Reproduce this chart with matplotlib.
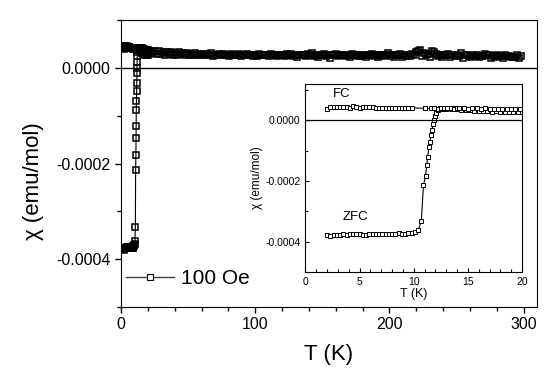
import numpy as np
import matplotlib
matplotlib.use("Agg")
import matplotlib.pyplot as plt
from matplotlib.ticker import MultipleLocator, FuncFormatter

plt.rcParams["font.family"] = ["Liberation Sans", "DejaVu Sans"]
plt.rcParams["axes.unicode_minus"] = False

# --- ZFC (zero field cooled), T in K, chi in 1e-6 emu/mol ---
zfc_t = [2.0, 2.3, 2.6, 2.9, 3.2, 3.5, 3.8, 4.1, 4.4, 4.7, 5.0, 5.3, 5.6, 5.9, 6.2,
         6.5, 6.8, 7.1, 7.4, 7.7, 8.0, 8.3, 8.6, 8.9, 9.2, 9.5, 9.8, 10.1, 10.4,
         10.7, 10.9, 11.1, 11.2, 11.3, 11.4, 11.5, 11.6, 11.7, 11.8, 11.9, 12.0,
         12.1, 12.2, 12.3,
         12.4, 12.5, 12.6, 12.7, 12.8, 12.9, 13.0, 13.1, 13.2, 13.3, 13.4, 13.5,
         13.6, 13.7, 13.8, 13.9, 14.0,
         14.4, 14.8, 15.2, 15.6, 16.0, 16.4, 16.8, 17.2, 17.6, 18.0, 18.4, 18.8,
         19.2, 19.6, 20.0]
zfc_chi = [-377, -380, -378, -377, -377, -376, -377, -376, -375, -374, -376, -377,
           -377, -375, -374, -375, -375, -376, -375, -376, -376, -374, -373, -376,
           -374, -373, -371, -369, -362,
           -333, -214, -183, -146, -121, -87, -70, -48, -31, -11, 0, 13, 24, 33, 38,
           40, 41, 39, 42, 40, 41, 39, 40, 42, 41, 39, 40, 41, 38, 40, 39, 40,
           35, 33, 34, 32, 31, 32, 30, 29, 31, 28, 29, 27, 28, 27, 28]

# --- FC (field cooled) ---
fc_t = [2.0, 2.3, 2.6, 2.9, 3.2, 3.5, 3.8, 4.1, 4.4, 4.7, 5.0, 5.3, 5.6, 5.9, 6.2,
        6.5, 6.8, 7.1, 7.4, 7.7, 8.0, 8.3, 8.6, 8.9, 9.2, 9.5, 9.8,
        11.0, 11.6, 11.9, 12.2, 12.5, 12.8, 13.1, 13.4, 13.7, 14.0,
        14.2, 14.6, 15.0, 15.4, 15.8, 16.2, 16.6, 17.0, 17.4, 17.8, 18.2, 18.6,
        19.0, 19.4, 19.8]
fc_chi = [39, 44, 45, 45, 44, 43, 43, 42, 46, 43, 42, 43, 44, 43, 43, 42, 42, 42,
          41, 41, 42, 41, 40, 40, 41, 40, 41,
          40, 40, 41, 39, 41, 40, 42, 40, 39, 41,
          40, 41, 39, 40, 41, 39, 40, 38, 39, 38, 37, 38, 37, 38, 37]

# --- high temperature part (3 K steps) ---
fc_hi_t = list(range(22, 299, 3))
fc_hi_chi = [36, 35, 36, 34, 33, 34, 32, 33, 31, 32, 30, 31, 30,
             29, 30, 31, 28, 29, 30, 28, 29, 27, 30, 28, 29, 27, 28, 30, 27, 28, 29, 27, 28,
             27, 29, 30, 27, 28, 26, 29, 31, 27, 28, 30, 26, 27, 29, 28, 26, 27, 30, 28, 27,
             26, 28, 29, 27, 26, 28, 31, 27, 26, 29, 28, 27, 30, 33, 38, 31, 29, 36, 30, 28,
             27, 29, 26, 28, 31, 26, 25, 28, 27, 24, 29, 26, 25, 28, 24, 27, 25, 23, 26, 24]
zfc_hi_t = [t - 1.5 for t in fc_hi_t]
zfc_hi_chi = [30, 31, 29, 30, 28, 29, 27, 28, 29, 27, 28, 26, 27,
              27, 26, 28, 25, 27, 26, 28, 24, 26, 27, 25, 26, 28, 24, 25, 27, 26, 24, 27, 25,
              26, 24, 27, 25, 22, 26, 25, 27, 24, 23, 26, 25, 21, 26, 24, 27, 25, 23, 26, 24,
              25, 23, 26, 24, 22, 25, 27, 24, 23, 26, 22, 25, 24, 27, 35, 24, 26, 22, 33, 25,
              23, 26, 22, 25, 24, 21, 26, 23, 25, 22, 24, 26, 21, 23, 25, 20, 24, 22, 23, 21]

zfc_T = np.array(zfc_t + zfc_hi_t)
zfc_X = np.array(zfc_chi + zfc_hi_chi) * 1e-6
fc_T = np.array(fc_t + fc_hi_t)
fc_X = np.array(fc_chi + fc_hi_chi) * 1e-6

fmt4 = FuncFormatter(lambda v, p: "%.4f" % v if abs(v) > 1e-9 else "0.0000")

fig = plt.figure(figsize=(5.46, 3.78), dpi=100)

# --- main axes ---
ax = fig.add_axes([0.2216, 0.1878, 0.762, 0.759])
for T, X in ((zfc_T, zfc_X), (fc_T, fc_X)):
    ax.plot(T, X, "-s", color="black", lw=0.8, ms=5, mfc="none", mew=1.1)
ax.plot([], [], "-s", color="#444444", lw=1.0, ms=5, mfc="white", mec="black",
        mew=0.8, label="100 Oe")
ax.axhline(0, color="black", lw=1.0)
ax.set_xlim(0, 310)
ax.set_ylim(-0.0005, 0.0001)
ax.xaxis.set_major_locator(MultipleLocator(100))
ax.xaxis.set_minor_locator(MultipleLocator(20))
ax.yaxis.set_major_locator(MultipleLocator(0.0002))
ax.yaxis.set_minor_locator(MultipleLocator(0.0001))
ax.yaxis.set_major_formatter(fmt4)
ax.tick_params(which="both", direction="out", labelsize=11.5, width=1)
ax.tick_params(which="major", length=4)
ax.tick_params(which="minor", length=3)
ax.set_xlabel("T (K)", fontsize=16, labelpad=8)
ax.set_ylabel("χ (emu/mol)", fontsize=16)
ax.yaxis.set_label_coords(-0.185, 0.44)
ax.legend(loc="center left", bbox_to_anchor=(0.012, 0.098), frameon=False,
          fontsize=15, numpoints=1, handlelength=2.3, handletextpad=0.35,
          borderpad=0, borderaxespad=0)

# --- inset: low temperature ---
ins = fig.add_axes([0.5595, 0.2804, 0.3965, 0.4974])
ins.plot(zfc_T, zfc_X, "-s", color="black", lw=0.8, ms=3, mfc="white", mew=0.7)
ins.plot(fc_T, fc_X, "-s", color="black", lw=0.8, ms=3, mfc="white", mew=0.7)
ins.axhline(0, color="black", lw=0.9)
ins.set_xlim(0, 20)
ins.set_ylim(-0.0005, 0.00012)
ins.xaxis.set_major_locator(MultipleLocator(5))
ins.xaxis.set_minor_locator(MultipleLocator(1))
ins.yaxis.set_major_locator(MultipleLocator(0.0002))
ins.yaxis.set_minor_locator(MultipleLocator(0.0001))
ins.yaxis.set_major_formatter(fmt4)
ins.tick_params(which="both", direction="in", labelsize=7.5, width=0.8)
ins.tick_params(which="major", length=3)
ins.tick_params(which="minor", length=2)
ins.set_xlabel("T (K)", fontsize=9, labelpad=1)
ins.set_ylabel("χ (emu/mol)", fontsize=8.5, labelpad=2)
ins.text(2.5, 0.0000867, "FC", fontsize=9.5, va="center")
ins.text(3.4, -0.00032, "ZFC", fontsize=9.5, va="center")

plt.savefig("out.png", dpi=100)
plt.close()
